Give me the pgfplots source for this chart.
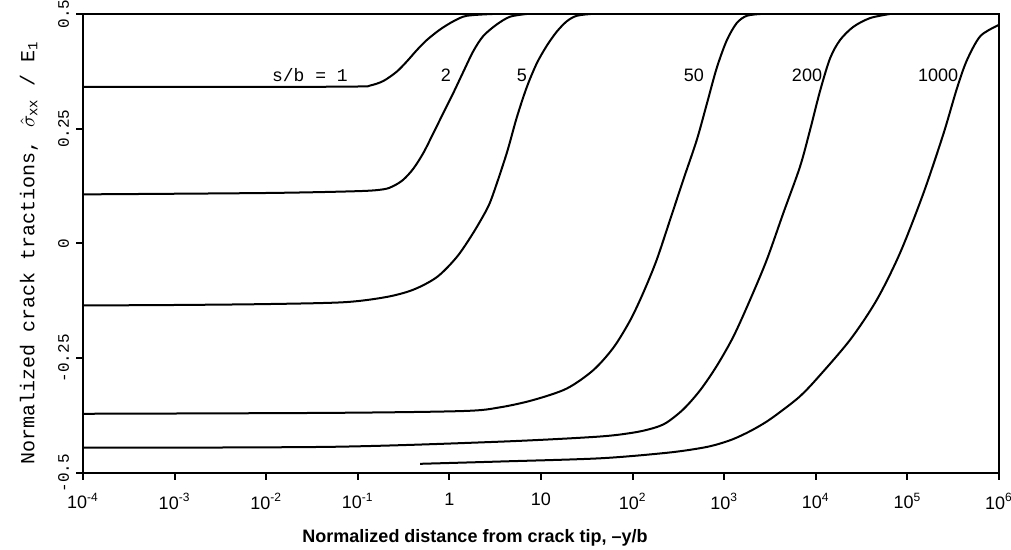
\documentclass[border=0pt]{standalone}
\usepackage{fontspec}
\setmainfont{Liberation Sans}
\setmonofont{Liberation Mono}
\usepackage{pgfplots}
\pgfplotsset{compat=1.18}
\begin{document}
\begin{tikzpicture}[x=1pt,y=1pt]
\begin{axis}[
  at={(0,0)}, anchor=south west,
  width=458pt, height=229.5pt, scale only axis,
  xmode=log, log basis x=10,
  xmin=1e-4, xmax=1e6,
  ymin=-0.5, ymax=0.5,
  axis line style={line width=1.2pt},
  xtick={1e-4,1e-3,1e-2,1e-1,1,10,100,1e3,1e4,1e5,1e6},
  xticklabels={10\textsuperscript{-4},10\textsuperscript{-3},10\textsuperscript{-2},10\textsuperscript{-1},1,10,10\textsuperscript{2},10\textsuperscript{3},10\textsuperscript{4},10\textsuperscript{5},10\textsuperscript{6}},
  ytick={-0.5,-0.25,0,0.25,0.5},
  yticklabels={-0.5,-0.25,0,0.25,0.5},
  minor xtick={}, xminorticks=false,
  tick align=outside, major tick length=3.5pt,
  tick style={line width=1pt, black},
  xtick pos=left, ytick pos=left,
  xticklabel style={font=\fontsize{9}{10}\selectfont, yshift=-3pt},
  yticklabel style={rotate=90, anchor=south, font=\ttfamily\fontsize{8}{10}\selectfont},
  xlabel={Normalized distance from crack tip, --y/b},
  xlabel style={font=\bfseries\fontsize{9}{10}\selectfont, at={(axis description cs:0.428,0)}, anchor=center, yshift=-32.5pt},
  ylabel={\ttfamily Normalized crack tractions, $\hat{\sigma}_{\mathtt{xx}}$ / E$_{\mathtt{1}}$},
  ylabel style={font=\fontsize{10}{12}\selectfont, at={(axis description cs:0,0.48)}, anchor=center, yshift=27pt},
  crv/.style={black, solid, line width=1pt, mark=none, smooth, tension=0.5},
]
% s/b = 1
\addplot[crv] coordinates {
(1e-4,0.341) (1e-2,0.341) (0.1,0.342) (0.136,0.344) (0.190,0.354) (0.265,0.374)
(0.341,0.396) (0.440,0.421) (0.565,0.443) (0.789,0.466) (1.104,0.484) (1.545,0.496) (3,0.5)
};
% s/b = 2
\addplot[crv] coordinates {
(1e-4,0.107) (1e-2,0.110) (0.1,0.114) (0.190,0.118) (0.244,0.125) (0.314,0.139)
(0.404,0.163) (0.519,0.197) (0.667,0.240) (0.857,0.284) (1.104,0.328) (1.419,0.374)
(1.824,0.419) (2.344,0.452) (3.281,0.477) (4.592,0.494) (7,0.5)
};
% s/b = 5
\addplot[crv] coordinates {
(1e-4,-0.135) (1e-3,-0.134) (1e-2,-0.132) (0.07,-0.128) (0.2,-0.117) (0.4,-0.101)
(0.733,-0.073) (1.21,-0.029) (1.82,0.023) (2.57,0.075) (3.02,0.109) (4.23,0.197)
(5.43,0.274) (6.98,0.340) (8.97,0.392) (11.5,0.430) (14.8,0.461) (19.1,0.484) (24.5,0.496) (35,0.5)
};
% s/b = 50
\addplot[crv] coordinates {
(1e-4,-0.371) (0.05,-0.369) (1.41,-0.365) (3.56,-0.357) (8.24,-0.341) (19.1,-0.316)
(37.2,-0.276) (61.7,-0.227) (93.8,-0.168) (131,-0.107) (183,-0.036) (256,0.051)
(358,0.139) (501,0.225) (644,0.303) (828,0.382) (1064,0.442) (1368,0.480) (1762,0.496) (2500,0.5)
};
% s/b = 200
\addplot[crv] coordinates {
(1e-4,-0.445) (0.05,-0.443) (3.31,-0.432) (40.7,-0.421) (102,-0.412) (170,-0.402) (236,-0.390)
(359,-0.361) (545,-0.320) (828,-0.267) (1259,-0.203) (1914,-0.123) (2911,-0.036)
(4416,0.066) (6714,0.167) (8650,0.247) (11120,0.332) (14290,0.403) (18370,0.443)
(25700,0.472) (39080,0.491) (64570,0.5)
};
% s/b = 1000
\addplot[crv] coordinates {
(0.48,-0.480) (3.56,-0.475) (44,-0.468) (236,-0.456) (545,-0.446) (828,-0.438)
(1259,-0.426) (1914,-0.409) (2911,-0.388) (4416,-0.362) (6714,-0.333) (10230,-0.295)
(23660,-0.210) (46240,-0.123) (82990,-0.021) (149300,0.109) (246600,0.238)
(345100,0.336) (443600,0.398) (620900,0.451) (944000,0.474) (1e6,0.476)
};
\node[font=\ttfamily\fontsize{9}{10}\selectfont] at (axis cs:0.030,0.367) {s/b = 1};
\node[font=\fontsize{9}{10}\selectfont] at (axis cs:0.918,0.367) {2};
\node[font=\fontsize{9}{10}\selectfont] at (axis cs:6.2,0.367) {5};
\node[font=\fontsize{9}{10}\selectfont] at (axis cs:468,0.367) {50};
\node[font=\fontsize{9}{10}\selectfont] at (axis cs:8017,0.367) {200};
\node[font=\fontsize{9}{10}\selectfont] at (axis cs:2.16e5,0.367) {1000};
\end{axis}
\pgfresetboundingbox
\path (-41.5pt,-38.5pt) rectangle (464pt,236.5pt);
\end{tikzpicture}
\end{document}
